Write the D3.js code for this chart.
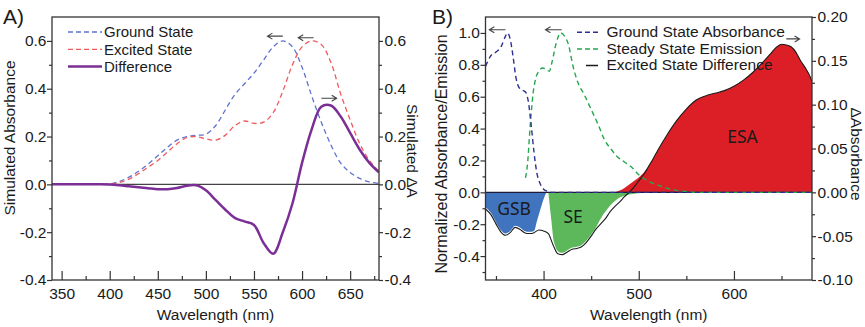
<!DOCTYPE html>
<html>
<head>
<meta charset="utf-8">
<script src="https://cdn.jsdelivr.net/npm/d3@7"></script>
<style>
  body { margin: 0; background: #fff; }
  text { font-family: "Liberation Sans", Arial, sans-serif; fill: #1a1a1a; }
</style>
</head>
<body>
<svg id="chart" width="865" height="327"></svg>
<script>
// ---- panel A : simulated spectra ----
var wlA = [340,350,360,370,380,390,400,410,420,430,440,450,460,470,480,490,500,510,520,530,
           540,550,560,570,580,590,600,610,620,630,640,650,660,670,680];
var groundA = [0,0,0,0,0,0,0.002,0.012,0.03,0.055,0.085,0.12,0.155,0.185,0.2,0.205,0.21,0.245,0.31,0.375,
               0.42,0.465,0.52,0.575,0.6,0.575,0.49,0.37,0.26,0.165,0.09,0.05,0.025,0.01,0.004];
var excitedA = [0,0,0,0,0,0,0.001,0.008,0.022,0.045,0.072,0.1,0.135,0.17,0.195,0.2,0.19,0.185,0.205,0.245,
                0.265,0.255,0.26,0.3,0.39,0.5,0.575,0.6,0.585,0.51,0.38,0.27,0.17,0.1,0.055];
var diffA = [0,0,0,0,0,0,-0.001,-0.004,-0.008,-0.012,-0.016,-0.02,-0.02,-0.015,-0.006,-0.004,-0.025,-0.065,-0.105,-0.14,
             -0.155,-0.17,-0.245,-0.29,-0.2,-0.08,0.09,0.23,0.325,0.33,0.285,0.215,0.145,0.09,0.05];
var xTicksA = [350,400,450,500,550,600,650];
var xMinorA = [375,425,475,525,575,625,675];
var yTicksA = [-0.4,-0.2,0,0.2,0.4,0.6];
var yMinorA = [-0.3,-0.1,0.1,0.3,0.5];
var legendA = ["Ground State","Excited State","Difference"];

// ---- panel B : measured spectra ----
var wlAbsB = [339,345,350,355,360,362,365,368,371,374,378,381,384,387,390,393,396,400,405,410,450,500,550,600,682];
var absB = [0.79,0.86,0.88,0.91,0.98,1.0,0.96,0.85,0.72,0.66,0.64,0.63,0.57,0.42,0.25,0.12,0.06,0.02,0.005,0,0,0,0,0,0];
var wlEmB = [381,383,386,389,392,395,399,403,406,409,413,418,422,426,431,436,443,450,457,464,471,478,485,492,
             500,510,520,530,540,550,560,600,682];
var emB = [0.09,0.17,0.42,0.62,0.72,0.76,0.78,0.77,0.76,0.82,0.93,1.0,0.98,0.93,0.79,0.69,0.61,0.52,0.43,0.33,0.27,0.22,0.19,0.16,
           0.11,0.07,0.045,0.025,0.012,0.005,0,0,0];
var wlDiffB = [339,345,350,355,360,365,370,375,380,385,390,395,400,405,410,415,420,425,430,435,440,445,450,455,460,
               465,470,475,480,485,490,495,500,505,510,515,520,530,540,550,560,570,580,590,600,610,620,630,640,645,
               650,655,660,665,670,675,680,682];
var diffB = [-0.019,-0.026,-0.036,-0.045,-0.049,-0.046,-0.040,-0.042,-0.046,-0.047,-0.046,-0.043,-0.044,-0.047,-0.060,-0.070,-0.071,-0.068,-0.065,-0.064,
             -0.062,-0.057,-0.050,-0.042,-0.036,-0.030,-0.022,-0.016,-0.011,-0.005,0.0,0.006,0.013,0.020,0.029,0.038,0.048,0.066,0.082,0.095,
             0.105,0.110,0.113,0.116,0.121,0.128,0.137,0.148,0.160,0.166,0.169,0.168,0.166,0.160,0.150,0.142,0.132,0.126];
var wlGsb = [339,345,350,355,360,365,370,375,380,385,390,393,396,400,403];
var gsb = [-0.017,-0.024,-0.034,-0.043,-0.047,-0.044,-0.038,-0.040,-0.044,-0.045,-0.044,-0.033,-0.022,-0.008,0];
var wlSe = [405,408,411,416,420,425,430,435,440,445,450,455,460,465,470,475,480,485,490,500,510];
var se = [0,-0.03,-0.057,-0.068,-0.069,-0.066,-0.063,-0.062,-0.06,-0.055,-0.048,-0.04,-0.03,-0.022,-0.015,-0.010,-0.006,-0.004,-0.0025,-0.001,0];
var wlEsa = [474,480,485,490,495,500,505,510,515,520,530,540,550,560,570,580,590,600,610,620,630,640,645,
             650,655,660,665,670,675,680,682];
var esa = [0,0.002,0.005,0.009,0.013,0.017,0.022,0.029,0.038,0.048,0.066,0.082,0.095,0.105,0.110,0.113,0.116,0.121,0.128,0.137,0.148,0.160,0.166,
           0.169,0.168,0.166,0.160,0.150,0.142,0.132,0.126];
var bandLabels = ["GSB","SE","ESA"];
var xTicksB = [400,500,600];
var xMinorB = [350,450,550,650];
var yTicksBL = [-0.4,-0.2,0,0.2,0.4,0.6,0.8,1.0];
var yMinorBL = [-0.5,-0.3,-0.1,0.1,0.3,0.5,0.7,0.9];
var yTicksBR = [-0.1,-0.05,0,0.05,0.1,0.15,0.2];
var yMinorBR = [-0.075,-0.025,0.025,0.075,0.125,0.175];
var legendB = ["Ground State Absorbance","Steady State Emission","Excited State Difference"];

var svg = d3.select("#chart");
var axisColor = "#333";

function zip(xs, ys) { return xs.map(function(x, i) { return [x, ys[i]]; }); }

function styleAxis(g, size) {
  g.select(".domain").remove();
  g.attr("font-family", null).attr("font-size", null);
  g.selectAll("line").attr("stroke", axisColor).attr("stroke-width", 1.2);
  g.selectAll("text").style("font-size", size + "px").attr("fill", "#1a1a1a");
}

function panelAxes(x, yL, yR, box, o) {
  var g = svg.append("g");
  // minor ticks first
  g.append("g").attr("transform", "translate(0," + box.bottom + ")")
    .call(d3.axisBottom(x).tickValues(o.xMinor).tickSize(-4).tickFormat(""))
    .call(styleAxis, 15);
  g.append("g").attr("transform", "translate(0," + box.bottom + ")")
    .call(d3.axisBottom(x).tickValues(o.xTicks).tickSize(-9).tickPadding(7.5).tickFormat(d3.format("d")))
    .call(styleAxis, 15.5);
  g.append("g").attr("transform", "translate(" + box.left + ",0)")
    .call(d3.axisLeft(yL).tickValues(o.yMinorL).tickSize(3).tickFormat(""))
    .call(styleAxis, 15);
  g.append("g").attr("transform", "translate(" + box.left + ",0)")
    .call(d3.axisLeft(yL).tickValues(o.yTicksL).tickSize(5).tickPadding(o.padL).tickFormat(function(d) { return d.toFixed(1); }))
    .call(styleAxis, 15.5);
  g.append("g").attr("transform", "translate(" + box.right + ",0)")
    .call(d3.axisRight(yR).tickValues(o.yMinorR).tickSize(3).tickFormat(""))
    .call(styleAxis, 15);
  g.append("g").attr("transform", "translate(" + box.right + ",0)")
    .call(d3.axisRight(yR).tickValues(o.yTicksR).tickSize(4).tickPadding(1.5).tickFormat(function(d) { return d.toFixed(o.digitsR); }))
    .call(styleAxis, 15.5);
  svg.append("rect")
    .attr("x", box.left).attr("y", box.top)
    .attr("width", box.right - box.left).attr("height", box.bottom - box.top)
    .attr("fill", "none").attr("stroke", axisColor).attr("stroke-width", 1.3);
}

function arrow(x1, x2, y) {
  var d = x2 > x1 ? -1 : 1;
  svg.append("path")
    .attr("d", "M" + x1 + "," + y + "L" + x2 + "," + y +
               "M" + (x2 + d * 5) + "," + (y - 3) + "L" + x2 + "," + y + "L" + (x2 + d * 5) + "," + (y + 3))
    .attr("fill", "none").attr("stroke", "#444").attr("stroke-width", 1.1);
}

function vtext(x, y, angle, str, size) {
  svg.append("text")
    .attr("transform", "translate(" + x + "," + y + ") rotate(" + angle + ")")
    .attr("text-anchor", "middle").style("font-size", size + "px").text(str);
}

// ================= panel A =================
var boxA = {left: 52, top: 17, right: 379, bottom: 280};
var xA = d3.scaleLinear().domain([340, 680]).range([boxA.left, boxA.right]);
var yA = d3.scaleLinear().domain([-0.4, 0.7]).range([boxA.bottom, boxA.top]);
var yA2 = d3.scaleLinear().domain([-0.4, 0.7]).range([boxA.bottom, boxA.top]);

svg.append("clipPath").attr("id", "clipA").append("rect")
  .attr("x", boxA.left).attr("y", boxA.top).attr("width", boxA.right - boxA.left).attr("height", boxA.bottom - boxA.top);

var plotA = svg.append("g").attr("clip-path", "url(#clipA)");
plotA.append("line")
  .attr("x1", boxA.left).attr("x2", boxA.right).attr("y1", yA(0)).attr("y2", yA(0))
  .attr("stroke", "#444").attr("stroke-width", 1.2);

var smooth = d3.curveCatmullRom.alpha(0.5);
var lineA = d3.line().x(function(d) { return xA(d[0]); }).y(function(d) { return yA(d[1]); }).curve(smooth);
var lineA2 = d3.line().x(function(d) { return xA(d[0]); }).y(function(d) { return yA2(d[1]); }).curve(smooth);

plotA.append("path").datum(zip(wlA, groundA)).attr("d", lineA)
  .attr("fill", "none").attr("stroke", "#5f73cf").attr("stroke-width", 1.3).attr("stroke-dasharray", "5,3.5");
plotA.append("path").datum(zip(wlA, excitedA)).attr("d", lineA)
  .attr("fill", "none").attr("stroke", "#f05a5e").attr("stroke-width", 1.3).attr("stroke-dasharray", "5,3.5");
plotA.append("path").datum(zip(wlA, diffA)).attr("d", lineA2)
  .attr("fill", "none").attr("stroke", "#7b2f96").attr("stroke-width", 2.5);

panelAxes(xA, yA, yA2, boxA, {
  xTicks: xTicksA, xMinor: xMinorA, yTicksL: yTicksA, yMinorL: yMinorA,
  yTicksR: yTicksA, yMinorR: yMinorA, padL: 0.5, digitsR: 1
});

// legend A
var stylesA = [
  {stroke: "#5f73cf", w: 1.3, dash: "5,3"},
  {stroke: "#f05a5e", w: 1.3, dash: "5,3"},
  {stroke: "#7b2f96", w: 2.5, dash: null}
];
legendA.forEach(function(name, i) {
  var y = 32 + i * 17.3;
  svg.append("line").attr("x1", 68).attr("x2", 102).attr("y1", y).attr("y2", y)
    .attr("stroke", stylesA[i].stroke).attr("stroke-width", stylesA[i].w).attr("stroke-dasharray", stylesA[i].dash);
  svg.append("text").attr("x", 104).attr("y", y + 5.2).style("font-size", "15px").text(name);
});

arrow(xA(580), xA(564), yA(0.62));
arrow(xA(612), xA(596), yA(0.613));
arrow(xA(620), xA(636), yA(0.36));

svg.append("text").attr("x", 3).attr("y", 24).style("font-size", "21px").text("A)");
svg.append("text").attr("x", (boxA.left + boxA.right) / 2).attr("y", 320)
  .attr("text-anchor", "middle").style("font-size", "15.5px").text("Wavelength (nm)");
vtext(14.5, 138, -90, "Simulated Absorbance", 15.5);
vtext(407, 151, 90, "Simulated \u0394A", 15.5);

// ================= panel B =================
var boxB = {left: 485.5, top: 17, right: 812, bottom: 280};
var xB = d3.scaleLinear().domain([339, 682]).range([boxB.left, boxB.right]);
var yB = d3.scaleLinear().domain([-0.55, 1.1]).range([boxB.bottom, boxB.top]);
var yB2 = d3.scaleLinear().domain([-0.1, 0.2]).range([boxB.bottom, boxB.top]);

svg.append("clipPath").attr("id", "clipB").append("rect")
  .attr("x", boxB.left).attr("y", boxB.top).attr("width", boxB.right - boxB.left).attr("height", boxB.bottom - boxB.top);
var plotB = svg.append("g").attr("clip-path", "url(#clipB)");

var areaB = d3.area()
  .x(function(d) { return xB(d[0]); })
  .y0(yB2(0))
  .y1(function(d) { return yB2(d[1]); })
  .curve(d3.curveMonotoneX);

plotB.append("path").datum(zip(wlEsa, esa)).attr("d", areaB).attr("fill", "#dc1f27");
plotB.append("path").datum(zip(wlGsb, gsb)).attr("d", areaB).attr("fill", "#4174be");
plotB.append("path").datum(zip(wlSe, se)).attr("d", areaB).attr("fill", "#5cb85b");

plotB.append("line")
  .attr("x1", boxB.left).attr("x2", boxB.right).attr("y1", yB(0)).attr("y2", yB(0))
  .attr("stroke", "#1c1c3a").attr("stroke-width", 1.3);

var lineBL = d3.line().x(function(d) { return xB(d[0]); }).y(function(d) { return yB(d[1]); }).curve(d3.curveMonotoneX);
var lineBR = d3.line().x(function(d) { return xB(d[0]); }).y(function(d) { return yB2(d[1]); }).curve(d3.curveMonotoneX);

plotB.append("path").datum(zip(wlDiffB, diffB)).attr("d", lineBR)
  .attr("fill", "none").attr("stroke", "#1a1a1a").attr("stroke-width", 1.1);
plotB.append("path").datum(zip(wlEmB, emB)).attr("d", lineBL)
  .attr("fill", "none").attr("stroke", "#22a84d").attr("stroke-width", 1.4).attr("stroke-dasharray", "5,3.5");
plotB.append("path").datum(zip(wlAbsB, absB)).attr("d", lineBL)
  .attr("fill", "none").attr("stroke", "#2d3092").attr("stroke-width", 1.4).attr("stroke-dasharray", "5,3.5");

// band labels, placed in wavelength / delta-absorbance units
var bandPos = [[369, -0.019], [431, -0.028], [609, 0.064]];
bandLabels.forEach(function(name, i) {
  svg.append("text").attr("x", xB(bandPos[i][0])).attr("y", yB2(bandPos[i][1]))
    .attr("text-anchor", "middle").attr("dy", "0.36em")
    .style("font-family", "'Noto Sans', 'Open Sans', sans-serif").style("font-size", "17.5px")
    .attr("fill", "#222").text(name);
});

panelAxes(xB, yB, yB2, boxB, {
  xTicks: xTicksB, xMinor: xMinorB, yTicksL: yTicksBL, yMinorL: yMinorBL,
  yTicksR: yTicksBR, yMinorR: yMinorBR, padL: 0.5, digitsR: 2
});

// legend B
var stylesB = [
  {stroke: "#2d3092", w: 1.5, dash: "5,3", x1: 577},
  {stroke: "#22a84d", w: 1.5, dash: "5,3", x1: 577},
  {stroke: "#1a1a1a", w: 1.5, dash: null, x1: 586}
];
legendB.forEach(function(name, i) {
  var y = 32.3 + i * 16.6;
  svg.append("line").attr("x1", stylesB[i].x1).attr("x2", 598).attr("y1", y).attr("y2", y)
    .attr("stroke", stylesB[i].stroke).attr("stroke-width", stylesB[i].w).attr("stroke-dasharray", stylesB[i].dash);
  svg.append("text").attr("x", 606.5).attr("y", y + 4.6).style("font-size", "15.5px").text(name);
});

arrow(xB(360), xB(343), yB(1.02));
arrow(xB(419), xB(402), yB(1.02));
arrow(xB(655), xB(669), yB2(0.175));

svg.append("text").attr("x", 432).attr("y", 24).style("font-size", "21px").text("B)");
svg.append("text").attr("x", (boxB.left + boxB.right) / 2).attr("y", 320)
  .attr("text-anchor", "middle").style("font-size", "15.5px").text("Wavelength (nm)");
vtext(447, 154, -90, "Normalized Absorbance/Emission", 16);
vtext(851, 154, 90, "\u0394Absorbance", 15.5);
</script>
</body>
</html>
